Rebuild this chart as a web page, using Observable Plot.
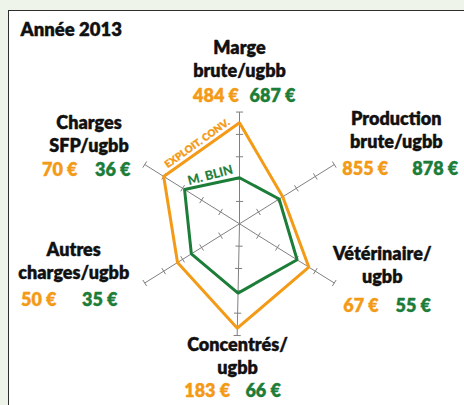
<!DOCTYPE html>
<html><head><meta charset="utf-8">
<script src="https://cdn.jsdelivr.net/npm/d3@7"></script>
<script src="https://cdn.jsdelivr.net/npm/@observablehq/plot@0.6"></script>
<style>
html,body{margin:0;padding:0;background:#eef4ea;width:464px;height:405px;overflow:hidden;}
#box{position:absolute;left:8px;top:10px;width:520px;height:460px;background:#fff;border:1.5px solid #2e2e2e;box-sizing:border-box;}
#chart{position:absolute;left:0;top:0;}
</style>
</head><body>
<div id="box"></div>
<div id="chart"></div>
<script>
// ---- data ----
const title = "Année 2013";
const axisNames = ["Marge\nbrute/ugbb", "Production\nbrute/ugbb", "Vétérinaire/\nugbb", "Concentrés/\nugbb", "Autres\ncharges/ugbb", "Charges\nSFP/ugbb"];
const series = ["EXPLOIT. CONV.", "M. BLIN"];
const exploitConv = [4.52, 2.28, 3.66, 4.67, 3.27, 4.0];   // radar position (tick units)
const mBlin       = [2.06, 2.09, 3.04, 3.10, 2.54, 2.9];
const euroConv = [484, 855, 67, 183, 50, 70];
const euroBlin = [687, 878, 55, 66, 35, 36];
const ticks = [1, 2, 3, 4, 5];
const axisMax = 5;

// ---- layout ----
const W = 464, H = 405, cx = 239, cy = 223.3, u = 22.35; // px per unit
const angles = [90, 32, -32, -91.2, 212, 148];
const ORANGE = "#f39a17", GREEN = "#1c7d39";
const FS = 18;
// [dx name, dy last baseline, dy values baseline, dx orange value, dx green value] in px from axis end
const off = [
  [0, -35.5, -10, -23.5, 33],
  [62, -16.4, 10, 31, 101],
  [48, 0, 29, 26.7, 79],
  [0.4, 38, 61, -30, 26],
  [-71, -4, 22.5, -106, -45],
  [-55.7, -12.4, 11, -85, -32]
];
const rad = a => a * Math.PI / 180;
const pt = (a, r) => [r * Math.cos(rad(a)), r * Math.sin(rad(a))];

const axesData = angles.map((a, i) => ({a, i, end: pt(a, axisMax)}));
const tickData = [];
angles.forEach(a => ticks.forEach(k => {
  const [x, y] = pt(a, k), h = 3.6 / u;
  const px = -Math.sin(rad(a)), py = Math.cos(rad(a));
  tickData.push({x1: x - h * px, y1: y - h * py, x2: x + h * px, y2: y + h * py});
}));
const poly = [];
[exploitConv, mBlin].forEach((vals, s) => vals.forEach((v, i) => {
  const [x, y] = pt(angles[i], v);
  poly.push({series: series[s], x, y});
}));
const labels = axesData.map(d => ({
  name: axisNames[d.i],
  x: d.end[0] + off[d.i][0] / u,
  y: d.end[1] - off[d.i][1] / u,
  vy: d.end[1] - off[d.i][2] / u,
  ox: d.end[0] + off[d.i][3] / u,
  gx: d.end[0] + off[d.i][4] / u,
  conv: `${euroConv[d.i]} €`,
  blin: `${euroBlin[d.i]} €`
}));

// series labels along the upper-left edges
function edgeLabel(vals, name, offPx) {
  const p0 = pt(angles[5], vals[5]), p1 = pt(angles[0], vals[0]);
  const ang = -Math.atan2(p1[1] - p0[1], p1[0] - p0[0]) * 180 / Math.PI;
  const len = Math.hypot(p1[0] - p0[0], p1[1] - p0[1]);
  const nx = -(p1[1] - p0[1]) / len, ny = (p1[0] - p0[0]) / len;
  return {name, ang, x: (p0[0] + p1[0]) / 2 + nx * offPx / u, y: (p0[1] + p1[1]) / 2 + ny * offPx / u};
}
const convLab = edgeLabel(exploitConv, series[0], 7.5);
const blinLab = edgeLabel(mBlin, series[1], 8.5);
const heavy = {fontWeight: 800, strokeWidth: 0.35};

const chart = Plot.plot({
  width: W, height: H, margin: 0,
  style: {background: "transparent", fontFamily: "Lato, 'Open Sans', sans-serif", color: "#111", overflow: "visible"},
  x: {domain: [-cx / u, (W - cx) / u], axis: null},
  y: {domain: [-(H - cy) / u, cy / u], axis: null},
  color: {domain: series, range: [ORANGE, GREEN]},
  marks: [
    Plot.text([title], {frameAnchor: "top-left", dx: 20, dy: 35, lineAnchor: "bottom", textAnchor: "start", fontSize: FS + 0.5, ...heavy, fill: "#111", stroke: "#111"}),
    Plot.link(axesData, {x1: () => 0, y1: () => 0, x2: d => d.end[0], y2: d => d.end[1], stroke: "#808080", strokeWidth: 1}),
    Plot.link(tickData, {x1: "x1", y1: "y1", x2: "x2", y2: "y2", stroke: "#808080", strokeWidth: 1}),
    Plot.line(poly, {x: "x", y: "y", z: "series", stroke: "series", curve: "linear-closed", strokeWidth: 3, strokeLinejoin: "miter"}),
    Plot.text(labels, {x: "x", y: "y", text: "name", textAnchor: "middle", lineAnchor: "bottom", lineHeight: 23 / FS, fontSize: FS, ...heavy, fill: "#111", stroke: "#111"}),
    Plot.text(labels, {x: "ox", y: "vy", text: "conv", textAnchor: "middle", lineAnchor: "bottom", fontSize: FS, ...heavy, fill: ORANGE, stroke: ORANGE}),
    Plot.text(labels, {x: "gx", y: "vy", text: "blin", textAnchor: "middle", lineAnchor: "bottom", fontSize: FS, ...heavy, fill: GREEN, stroke: GREEN}),
    Plot.text([convLab], {x: "x", y: "y", text: "name", rotate: convLab.ang, textAnchor: "middle", lineAnchor: "middle", fontSize: 10, fontWeight: 800, fill: ORANGE, stroke: ORANGE, strokeWidth: 0.25}),
    Plot.text([blinLab], {x: "x", y: "y", text: "name", rotate: blinLab.ang - 2.5, textAnchor: "middle", lineAnchor: "middle", fontSize: 12.5, fontWeight: "bold", fill: GREEN, stroke: GREEN, strokeWidth: 0.25})
  ]
});
document.getElementById("chart").appendChild(chart);
</script>
</body></html>
